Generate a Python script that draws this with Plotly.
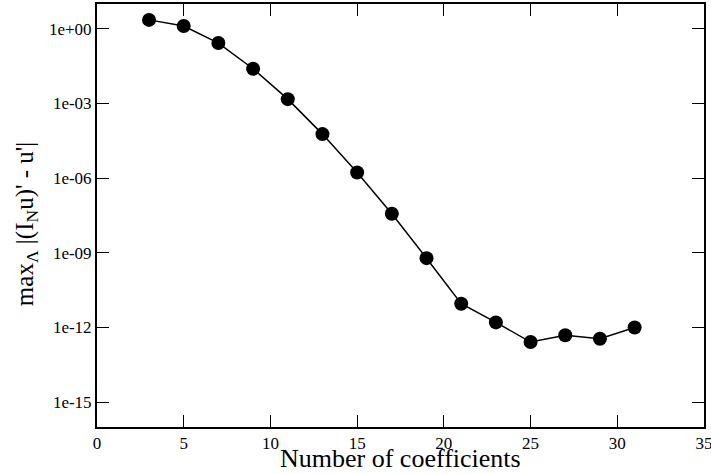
import plotly.graph_objects as go

n_coeffs = [3, 5, 7, 9, 11, 13, 15, 17, 19, 21, 23, 25, 27, 29, 31]
max_err = [2.3, 1.3, 0.27, 0.025, 1.5e-3, 5.9e-5, 1.7e-6, 3.7e-8, 6.1e-10,
           9e-12, 1.6e-12, 2.6e-13, 4.9e-13, 3.5e-13, 1.0e-12]

y_tickvals = [1e0, 1e-3, 1e-6, 1e-9, 1e-12, 1e-15]
y_ticktext = ["1e+00", "1e-03", "1e-06", "1e-09", "1e-12", "1e-15"]
x_tickvals = [0, 5, 10, 15, 20, 25, 30, 35]

font_family = "Liberation Serif"

fig = go.Figure()
fig.add_trace(go.Scatter(
    x=n_coeffs, y=max_err, mode="lines+markers",
    line=dict(color="black", width=1.5),
    marker=dict(color="black", size=14, symbol="circle"),
    showlegend=False,
))

fig.update_layout(
    width=711, height=474,
    margin=dict(l=97, r=7, t=4, b=47),
    paper_bgcolor="white", plot_bgcolor="white",
    font=dict(family=font_family, color="black", size=17),
    xaxis=dict(
        range=[0, 35], tickvals=x_tickvals, automargin=False,
        ticklabeloverflow="allow",
        ticks="inside", ticklen=12, tickwidth=1, tickcolor="black",
        showline=True, linecolor="black", linewidth=2, mirror="ticks",
        showgrid=False, zeroline=False,
        tickfont=dict(size=17, family=font_family),
    ),
    yaxis=dict(
        type="log", range=[-16, 1], tickvals=y_tickvals, ticktext=y_ticktext,
        automargin=False,
        ticks="inside", ticklen=12, tickwidth=1, tickcolor="black",
        showline=True, linecolor="black", linewidth=2, mirror="ticks",
        showgrid=False, zeroline=False,
        tickfont=dict(size=17, family=font_family),
    ),
    annotations=[
        dict(text="Number of coefficients", xref="paper", yref="paper",
             x=0.5, y=-0.111, xanchor="center", yanchor="bottom", showarrow=False,
             borderpad=0, font=dict(size=26, family=font_family)),
        dict(text="max<sub>Λ</sub> |(I<sub>N</sub>u)' - u'|", xref="paper", yref="paper",
             x=-0.115, y=0.48, xanchor="center", yanchor="middle", showarrow=False,
             textangle=-90, font=dict(size=25, family=font_family)),
    ],
)

fig.write_html("out.html", config={"displayModeBar": False},
               post_script="document.body.style.margin='0';")
